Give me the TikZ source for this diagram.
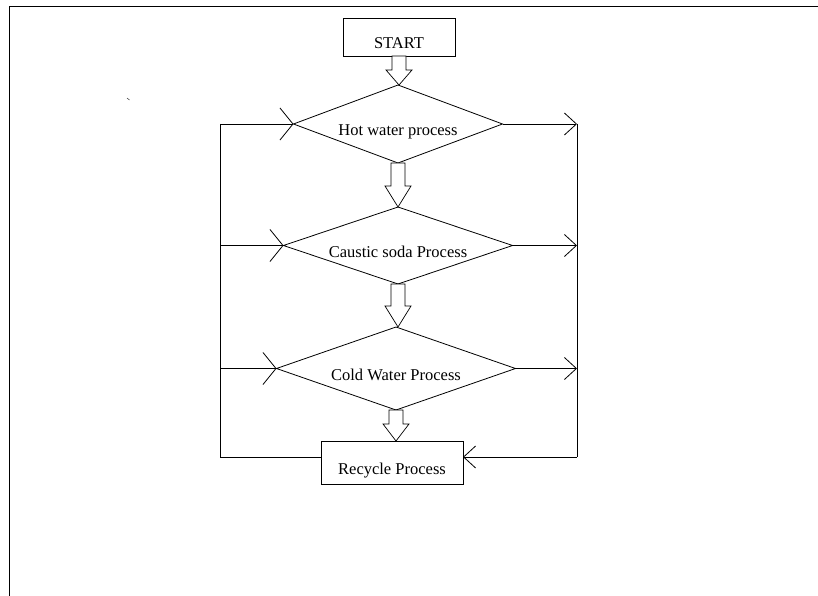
\documentclass[tikz,border=0pt]{standalone}
\usepackage{fontspec}
\setmainfont{Liberation Serif}
\usetikzlibrary{shapes.geometric,arrows.meta}
\begin{document}
\begin{tikzpicture}[x=1pt,y=-1pt,line width=0.8pt,
		every node/.style={font=\fontsize{16.5}{19}\selectfont,inner sep=0pt,outer sep=0pt,text height=23pt,text depth=0pt},
		stepbox/.style={draw,rectangle},
		testbox/.style={draw,diamond,aspect=2.7},
		inarrow/.style={-{Straight Barb[length=13pt,width=32pt]}},
		outarrow/.style={-{Straight Barb[length=12pt,width=22pt]}},
		fatarrow/.style={draw,fill=white,line width=0.7pt,line join=miter}]
		\useasboundingbox (0,0) rectangle (818,596);
		\draw[line width=1pt] (9,596) -- (9,6.5) -- (818,6.5);
		\draw[line width=0.6pt,black!70] (127,98) -- (129.5,100);
		\node[stepbox,minimum width=112pt,minimum height=38pt] (start) at (399,37) {START};
		\node[testbox,minimum width=209pt,minimum height=78pt] (hot) at (398,124) {Hot water process};
		\node[testbox,minimum width=229pt,minimum height=77pt] (caustic) at (398,245.5) {Caustic soda Process};
		\node[testbox,minimum width=239pt,minimum height=83pt] (cold) at (396,368.5) {Cold Water Process};
		\node[stepbox,minimum width=142pt,minimum height=43pt] (recycle) at (392,462.5) {Recycle Process};
		\coordinate (lt) at (220,124);
		\coordinate (lb) at (220,457);
		\coordinate (rt) at (577,124);
		\coordinate (rb) at (577,457);
		\foreach \a/\b/\h in {start/hot/15,hot/caustic/21,caustic/cold/21,cold/recycle/17}
			\draw[fatarrow] ([xshift=-7pt]\a.south) -- ([xshift=-7pt,yshift=\h pt]\a.south |- \b.north)
				-- ([xshift=-13pt,yshift=\h pt]\a.south |- \b.north) -- (\a.south |- \b.north)
				-- ([xshift=13pt,yshift=\h pt]\a.south |- \b.north) -- ([xshift=7pt,yshift=\h pt]\a.south |- \b.north)
				-- ([xshift=7pt]\a.south) -- cycle;
		\draw (lt) -- (lb) -- (lb -| recycle.west);
		\draw (rt) -- (rb);
		\draw[inarrow] (lt) -- (hot.west);
		\draw[inarrow] (lt |- caustic.west) -- (caustic.west);
		\draw[inarrow] (lt |- cold.west) -- (cold.west);
		\draw[outarrow] (hot.east) -- (rt);
		\draw[outarrow] (caustic.east) -- (caustic.east -| rt);
		\draw[outarrow] (cold.east) -- (cold.east -| rt);
		\draw[outarrow] (rb) -- (rb -| recycle.east);
	\end{tikzpicture}
\end{document}
